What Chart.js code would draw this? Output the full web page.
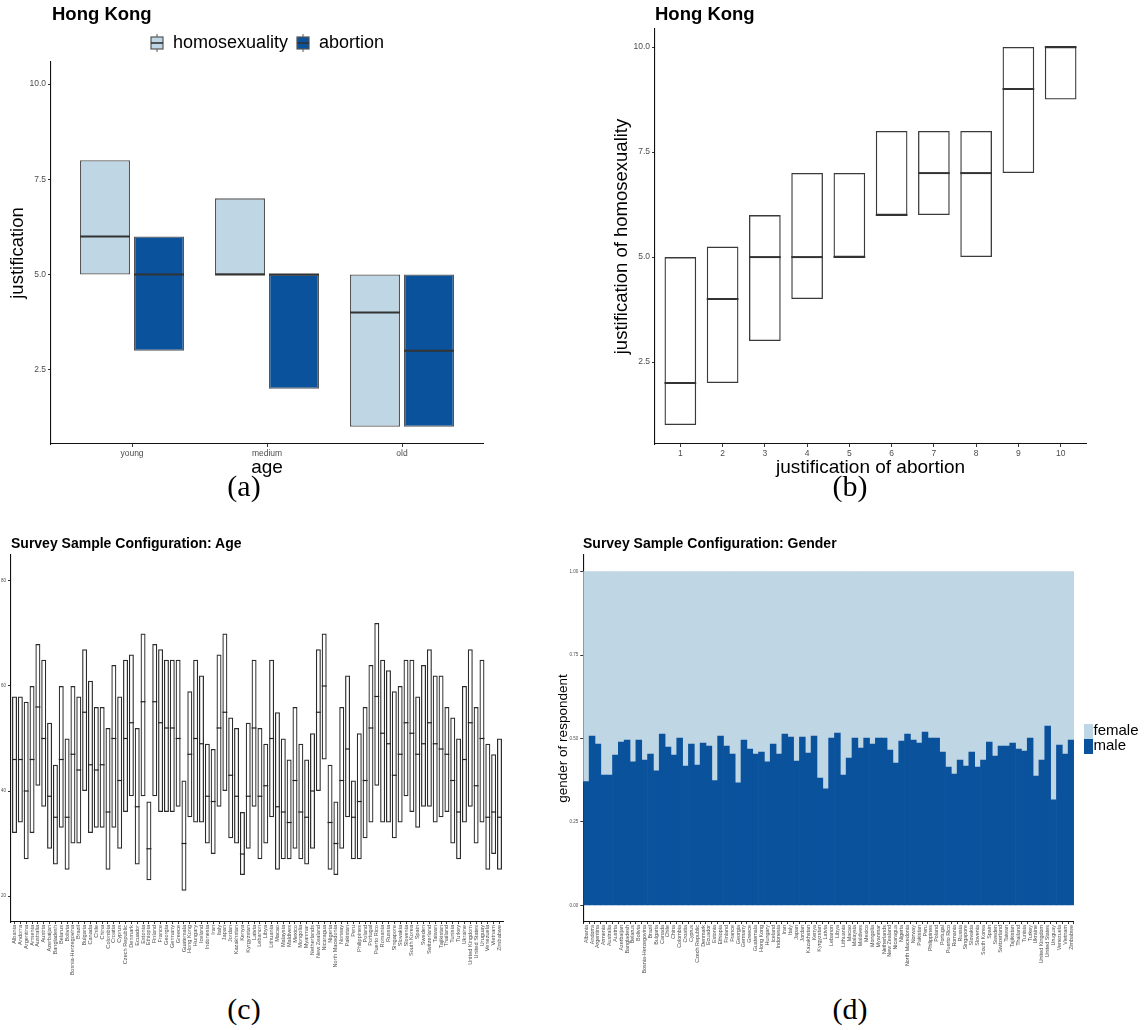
<!DOCTYPE html>
<html><head><meta charset="utf-8">
<script src="https://cdn.jsdelivr.net/npm/chart.js@4"></script>
<style>
html,body{margin:0;padding:0;background:#fff;}
body{width:1145px;height:1030px;position:relative;overflow:hidden;font-family:"Liberation Sans",Arial,sans-serif;}
canvas{position:absolute;}
.ttl{position:absolute;font-weight:bold;color:#000;white-space:nowrap;line-height:1;}
.cap{position:absolute;font-family:"Liberation Serif",serif;font-size:30px;line-height:1;transform:translateX(-50%);color:#000;}
</style></head><body>
<canvas id="ca" width="540" height="480" style="left:0;top:0;width:540px;height:480px"></canvas>
<canvas id="cb" width="545" height="480" style="left:600px;top:0;width:545px;height:480px"></canvas>
<canvas id="cc" width="520" height="450" style="left:0;top:530px;width:520px;height:450px"></canvas>
<canvas id="cd" width="601" height="450" style="left:555px;top:530px;width:601px;height:450px"></canvas>
<div class="ttl" style="left:52px;top:5px;font-size:18.5px">Hong Kong</div>
<div class="ttl" style="left:655px;top:5px;font-size:18.5px">Hong Kong</div>
<div class="ttl" style="left:11px;top:536px;font-size:14px">Survey Sample Configuration: Age</div>
<div class="ttl" style="left:583px;top:536px;font-size:14px">Survey Sample Configuration: Gender</div>
<div class="cap" style="left:244px;top:471px">(a)</div>
<div class="cap" style="left:850px;top:471px">(b)</div>
<div class="cap" style="left:244px;top:994px">(c)</div>
<div class="cap" style="left:850px;top:994px">(d)</div>
<script>
// ---------- data ----------
const ageGroups = ['young', 'medium', 'old'];
const homoQ1 = [5, 5, 1];
const homoMedian = [6, 5, 4];
const homoQ3 = [8, 7, 5];
const abortQ1 = [3, 2, 1];
const abortMedian = [5, 5, 3];
const abortQ3 = [6, 5, 5];
const justTicks = [2.5, 5, 7.5, 10];

const abortionLevels = ['1', '2', '3', '4', '5', '6', '7', '8', '9', '10'];
const hbaQ1 = [1, 2, 3, 4, 5, 6, 6, 5, 7, 8.75];
const hbaMedian = [2, 4, 5, 5, 5, 6, 7, 7, 9, 10];
const hbaQ3 = [5, 5.25, 6, 7, 7, 8, 8, 8, 10, 10];

const countries = ['Albania','Andorra','Argentina','Armenia','Australia','Austria','Azerbaijan','Bangladesh','Belarus','Bolivia',
 'Bosnia-Herzegovina','Brazil','Bulgaria','Canada','Chile','China','Colombia','Croatia','Cyprus','Czech Republic',
 'Denmark','Ecuador','Estonia','Ethiopia','Finland','France','Georgia','Germany','Greece','Guatemala',
 'Hong Kong','Hungary','Iceland','Indonesia','Iran','Italy','Japan','Jordan','Kazakhstan','Kenya',
 'Kyrgyzstan','Latvia','Lebanon','Libya','Lithuania','Macao','Malaysia','Maldives','Mexico','Mongolia',
 'Myanmar','Netherlands','New Zealand','Nicaragua','Nigeria','North Macedonia','Norway','Pakistan','Peru','Philippines',
 'Poland','Portugal','Puerto Rico','Romania','Russia','Singapore','Slovakia','Slovenia','South Korea','Spain',
 'Sweden','Switzerland','Taiwan','Tajikistan','Thailand','Tunisia','Turkey','Ukraine','United Kingdom','United States',
 'Uruguay','Venezuela','Vietnam','Zimbabwe'];
const ageQ1 = [32,34,27,32,41,37,29,26,33,25, 30,30,40,32,33,33,25,33,29,36, 39,26,39,23,39,36,36,36,37,21,
 35,34,34,30,28,37,40,31,30,24, 29,37,27,30,35,25,27,27,29,27, 26,29,40,46,25,24,29,35,27,27,
 31,34,41,34,34,31,34,39,36,33, 37,37,34,35,36,30,27,34,37,30, 34,25,28,25];
const ageMedian = [46,46,40,46,56,50,39,35,46,35, 47,44,55,45,44,45,36,50,42,50, 53,37,57,29,57,53,52,52,50,30,
 47,50,49,39,38,52,55,43,39,28, 39,52,39,41,50,37,36,34,42,36, 35,40,55,60,34,30,42,48,35,38,
 42,52,58,51,49,43,47,53,51,47, 49,53,49,48,47,42,36,46,53,41, 50,35,36,35];
const ageQ3 = [58,58,57,60,68,65,53,45,60,50, 60,58,67,61,56,56,52,64,58,65, 66,52,70,38,68,67,65,65,65,42,
 59,65,62,49,48,66,70,54,52,36, 53,65,52,49,65,55,50,46,56,49, 46,51,67,70,45,38,56,62,42,51,
 56,64,72,65,63,59,60,65,65,58, 64,67,62,62,56,54,50,60,67,56, 65,49,47,50];
const ageTicks = [20, 40, 60, 80];

const maleShare = [0.371,0.507,0.483,0.390,0.390,0.450,0.489,0.495,0.430,0.495,
 0.435,0.453,0.403,0.513,0.474,0.450,0.501,0.417,0.483,0.420,
 0.486,0.477,0.374,0.507,0.477,0.453,0.367,0.495,0.468,0.453,
 0.459,0.430,0.483,0.453,0.513,0.504,0.432,0.504,0.456,0.507,
 0.381,0.349,0.501,0.516,0.390,0.441,0.501,0.471,0.501,0.483,
 0.501,0.501,0.465,0.426,0.492,0.513,0.495,0.486,0.519,0.501,
 0.501,0.459,0.414,0.393,0.435,0.417,0.459,0.414,0.435,0.489,
 0.447,0.477,0.477,0.486,0.468,0.462,0.501,0.387,0.435,0.537,
 0.316,0.480,0.453,0.495];
const genderTicks = [0, 0.25, 0.5, 0.75, 1];

// ---------- styling helpers ----------
const LIGHT = '#bfd6e5', DARK = '#0a529c', TICKCOL = '#4d4d4d';
const FONT = '"Liberation Sans", Arial, sans-serif';
Chart.defaults.font.family = FONT;
Chart.defaults.animation = false;

const medianPlugin = {
  id: 'medians',
  afterDatasetsDraw(chart) {
    const ctx = chart.ctx, ys = chart.scales.y;
    chart.data.datasets.forEach((ds, di) => {
      if (!ds.medians) return;
      const meta = chart.getDatasetMeta(di);
      ctx.save();
      ctx.strokeStyle = ds.medianColor;
      ctx.lineWidth = ds.medianWidth;
      meta.data.forEach((bar, i) => {
        const py = ys.getPixelForValue(ds.medians[i]);
        ctx.beginPath();
        ctx.moveTo(bar.x - bar.width / 2, py);
        ctx.lineTo(bar.x + bar.width / 2, py);
        ctx.stroke();
      });
      ctx.restore();
    });
  }
};

const fixW = w => s => { s.width = w; };
const fixH = h => s => { s.height = h; };
const setTicks = vals => s => { s.ticks = vals.map(v => ({ value: v })); };
const boxes = (q1, q3) => q1.map((v, i) => ({ x: i + 1, y: [v, q3[i]] }));
const idx = arr => arr.map((_, i) => i + 1);

function axisY(min, max, ticks, fmt, width, fontSize, title) {
  return {
    type: 'linear', min, max,
    afterBuildTicks: setTicks(ticks), afterFit: fixW(width),
    border: { display: true, color: '#111', width: 1.1 },
    grid: { display: true, drawOnChartArea: false, drawTicks: true, tickLength: 3, color: '#333' },
    ticks: { color: TICKCOL, font: { size: fontSize }, padding: 2, callback: fmt },
    title: title || { display: false }
  };
}

function boxIcon(fill) {
  const c = document.createElement('canvas'); c.width = 14; c.height = 18;
  const g = c.getContext('2d');
  g.fillStyle = fill; g.fillRect(1, 3, 12, 12);
  g.strokeStyle = '#555'; g.lineWidth = 1.2; g.strokeRect(1, 3, 12, 12);
  g.strokeStyle = '#333'; g.lineWidth = 1.6; g.beginPath(); g.moveTo(1, 9); g.lineTo(13, 9); g.stroke();
  g.strokeStyle = '#555'; g.lineWidth = 1; g.beginPath(); g.moveTo(7, 0); g.lineTo(7, 3); g.moveTo(7, 15); g.lineTo(7, 18); g.stroke();
  return c;
}
function swatch(fill) {
  const c = document.createElement('canvas'); c.width = 26; c.height = 15;
  const g = c.getContext('2d'); g.fillStyle = fill; g.fillRect(17, 0, 9, 15);
  return c;
}

// ---------- (a) ----------
const iconsA = [boxIcon(LIGHT), boxIcon(DARK)];
new Chart(document.getElementById('ca'), {
  type: 'bar',
  data: { datasets: [
    { label: 'homosexuality', data: boxes(homoQ1, homoQ3), medians: homoMedian,
      backgroundColor: LIGHT, borderColor: '#555', borderWidth: 1.3, borderSkipped: false,
      medianColor: '#333', medianWidth: 2 },
    { label: 'abortion', data: boxes(abortQ1, abortQ3), medians: abortMedian,
      backgroundColor: DARK, borderColor: '#555', borderWidth: 1.3, borderSkipped: false,
      medianColor: '#333', medianWidth: 2 }
  ]},
  options: {
    responsive: false, animation: false,
    categoryPercentage: 0.8, barPercentage: 0.926,
    layout: { padding: { top: 26, right: 57, left: 0, bottom: 0 } },
    plugins: {
      tooltip: { enabled: false },
      legend: { position: 'top', fullSize: false,
        labels: { usePointStyle: true, pointStyleWidth: 14, padding: 8, color: '#000', font: { size: 18 },
          generateLabels(chart) {
            const items = Chart.defaults.plugins.legend.labels.generateLabels(chart);
            items.forEach(it => { it.pointStyle = iconsA[it.datasetIndex]; });
            return items;
          } } }
    },
    scales: {
      x: { type: 'linear', min: 0.4, max: 3.6, offset: false,
        afterBuildTicks: setTicks(idx(ageGroups)), afterFit: fixH(36),
        border: { display: true, color: '#111', width: 1.1 },
        grid: { display: true, offset: false, drawOnChartArea: false, drawTicks: true, tickLength: 3, color: '#333' },
        ticks: { color: TICKCOL, font: { size: 8.5 }, padding: 2, maxRotation: 0, autoSkip: false,
          callback: (v) => ageGroups[Math.round(v) - 1] },
        title: { display: true, text: 'age', color: '#000', font: { size: 19 }, padding: { top: 0, bottom: 1 } } },
      y: axisY(0.55, 10.58, justTicks, v => v.toFixed(1), 51, 8.5,
        { display: true, text: 'justification', color: '#000', font: { size: 18.5 }, padding: { top: 6.5, bottom: 0 } })
    }
  },
  plugins: [medianPlugin]
});

// ---------- (b) ----------
new Chart(document.getElementById('cb'), {
  type: 'bar',
  data: { datasets: [
    { label: 'homosexuality by abortion', data: boxes(hbaQ1, hbaQ3), medians: hbaMedian,
      backgroundColor: 'rgba(255,255,255,0)', borderColor: '#3a3a3a', borderWidth: 1.3, borderSkipped: false,
      medianColor: '#333', medianWidth: 2 }
  ]},
  options: {
    responsive: false, animation: false,
    categoryPercentage: 0.75, barPercentage: 1,
    layout: { padding: { top: 29, right: 59, left: 0, bottom: 0 } },
    plugins: { legend: { display: false }, tooltip: { enabled: false } },
    scales: {
      x: { type: 'linear', min: 0.4, max: 10.6, offset: false,
        afterBuildTicks: setTicks(idx(abortionLevels)), afterFit: fixH(36),
        border: { display: true, color: '#111', width: 1.1 },
        grid: { display: true, offset: false, drawOnChartArea: false, drawTicks: true, tickLength: 3, color: '#333' },
        ticks: { color: TICKCOL, font: { size: 8.5 }, padding: 2, maxRotation: 0, autoSkip: false,
          callback: (v) => abortionLevels[Math.round(v) - 1] },
        title: { display: true, text: 'justification of abortion', color: '#000', font: { size: 19 }, padding: { top: 0, bottom: 0.6 } } },
      y: axisY(0.55, 10.43, justTicks, v => v.toFixed(1), 55, 8.5,
        { display: true, text: 'justification of homosexuality', color: '#000', font: { size: 18.5 }, padding: { top: 10.4, bottom: 0 } })
    }
  },
  plugins: [medianPlugin]
});

// ---------- (c) ----------
new Chart(document.getElementById('cc'), {
  type: 'bar',
  data: { datasets: [
    { label: 'age', data: boxes(ageQ1, ageQ3), medians: ageMedian,
      backgroundColor: 'rgba(255,255,255,0)', borderColor: '#2b2b2b', borderWidth: 1.2, borderSkipped: false,
      medianColor: '#222', medianWidth: 1.2 }
  ]},
  options: {
    responsive: false, animation: false,
    categoryPercentage: 1, barPercentage: 0.85,
    layout: { padding: { top: 25, right: 17, left: 0, bottom: 0 } },
    plugins: { legend: { display: false }, tooltip: { enabled: false } },
    scales: {
      x: { type: 'linear', min: 0.4, max: countries.length + 0.6, offset: false,
        afterBuildTicks: setTicks(idx(countries)), afterFit: fixH(58),
        border: { display: true, color: '#111', width: 1.1 },
        grid: { display: true, offset: false, drawOnChartArea: false, drawTicks: true, tickLength: 2, color: '#333' },
        ticks: { color: TICKCOL, font: { size: 5.6 }, padding: 1, minRotation: 90, maxRotation: 90, autoSkip: false,
          callback: (v) => countries[Math.round(v) - 1] } },
      y: axisY(15.05, 84.95, ageTicks, v => String(v), 11, 4.5)
    }
  },
  plugins: [medianPlugin]
});

// ---------- (d) ----------
const iconsD = [swatch(DARK), swatch(LIGHT)];
new Chart(document.getElementById('cd'), {
  type: 'bar',
  data: { labels: countries, datasets: [
    { label: 'male', data: maleShare, backgroundColor: DARK, borderWidth: 0, grouped: false },
    { label: 'female', data: maleShare.map(m => [m, 1]), backgroundColor: LIGHT, borderWidth: 0, grouped: false }
  ]},
  options: {
    responsive: false, animation: false,
    categoryPercentage: 1, barPercentage: 1,
    layout: { padding: { top: 25, right: 7.5, left: 0, bottom: 0 } },
    plugins: {
      tooltip: { enabled: false },
      legend: { position: 'right', fullSize: false, reverse: true,
        labels: { usePointStyle: true, pointStyleWidth: 12, padding: 0, color: '#000', font: { size: 15 },
          generateLabels(chart) {
            const items = Chart.defaults.plugins.legend.labels.generateLabels(chart);
            items.forEach(it => { it.pointStyle = iconsD[it.datasetIndex]; });
            return items;
          } } }
    },
    scales: {
      x: { type: 'category', afterFit: fixH(58),
        border: { display: true, color: '#111', width: 1.1 },
        grid: { display: true, drawOnChartArea: false, drawTicks: true, tickLength: 2, color: '#333' },
        ticks: { color: TICKCOL, font: { size: 5.4 }, padding: 1, minRotation: 90, maxRotation: 90, autoSkip: false } },
      y: axisY(-0.05, 1.05, genderTicks, v => v.toFixed(2), 28.3, 4.5,
        { display: true, text: 'gender of respondent', color: '#000', font: { size: 13.5 }, padding: { top: 0, bottom: 0 } })
    }
  }
});
</script>
</body></html>
